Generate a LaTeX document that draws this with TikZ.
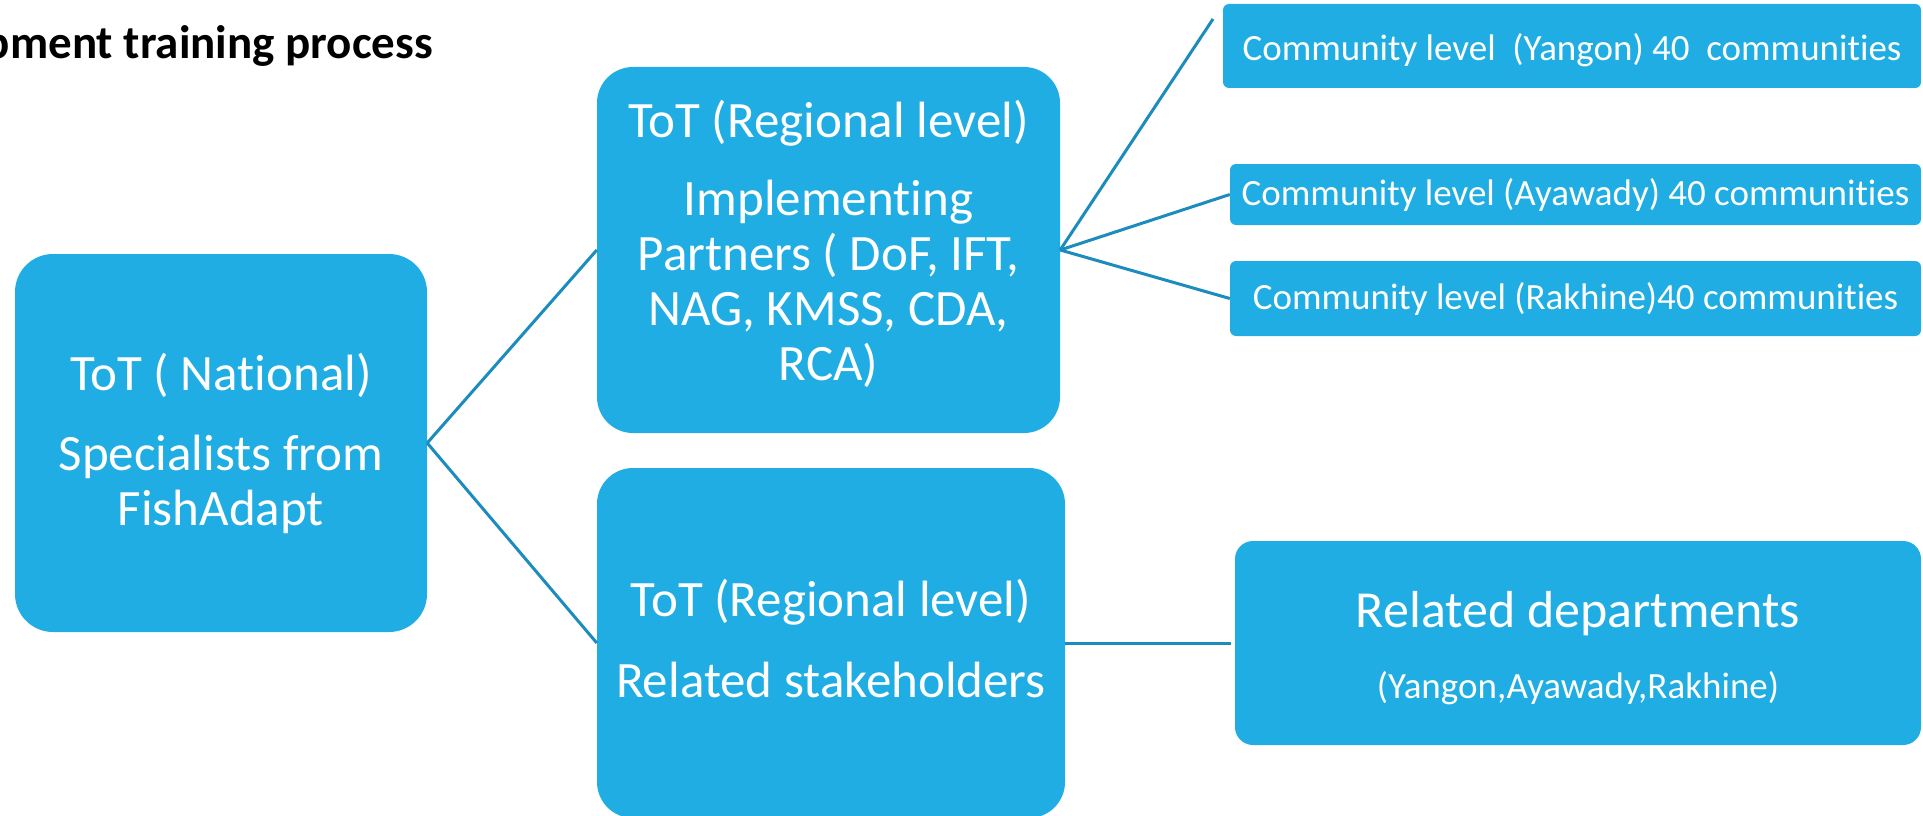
\documentclass[tikz,border=0pt]{standalone}
\usepackage{fontspec}
\setmainfont{Carlito}[Ligatures={NoCommon}]
\definecolor{boxblue}{HTML}{1FADE3}
\definecolor{linkblue}{HTML}{1C8BBD}
\begin{document}
\begin{tikzpicture}[x=1pt,y=-1pt,
  box/.style={fill=boxblue,text=white,inner sep=0pt,align=center,anchor=center},
  bigtext/.style={font=\fontsize{51}{55}\selectfont},
  comtext/.style={font=\fontsize{37}{41}\selectfont},
  link/.style={draw=linkblue,line width=3pt}]
\useasboundingbox (0,0) rectangle (1923,816);
\clip (0,0) rectangle (1923,816);
\node[anchor=base east,inner sep=0pt,font=\fontsize{47}{50}\selectfont\bfseries] (title) at (433,59) {Capacity development training process};
% boxes
\node[box,bigtext,rounded corners=38pt,minimum width=412pt,minimum height=378pt] (nat) at (221,443)
  {ToT ( National)\\[25pt]Specialists from\\FishAdapt};
\node[box,bigtext,rounded corners=36pt,minimum width=463pt,minimum height=366pt] (reg1) at (828.5,250)
  {ToT (Regional level)\\[23pt]Implementing\\Partners ( DoF, IFT,\\NAG, KMSS, CDA,\\RCA)\rule[-20pt]{0pt}{1pt}};
\node[box,bigtext,rounded corners=36pt,minimum width=468pt,minimum height=350pt] (reg2) at (831,643)
  {ToT (Regional level)\\[26pt]Related stakeholders\rule[-9pt]{0pt}{1pt}};
\node[box,comtext,rounded corners=6pt,minimum width=698pt,minimum height=84pt,text height=38pt,text depth=9pt] (yan) at (1572,46)
  {Community level\ \ (Yangon) 40\ \ communities};
\node[box,comtext,rounded corners=6pt,minimum width=691pt,minimum height=61pt] (aya) at (1575.5,194.5)
  {Community level (Ayawady) 40 communities};
\node[box,comtext,rounded corners=6pt,minimum width=691pt,minimum height=75pt] (rak) at (1575.5,298.5)
  {Community level (Rakhine)40 communities};
\node[box,rounded corners=18pt,minimum width=686pt,minimum height=204pt] (dep) at (1578,643)
  {{\fontsize{52}{56}\selectfont\rule{0pt}{46pt}Related departments}\\[34pt]{\fontsize{37}{40}\selectfont (Yangon,Ayawady,Rakhine)}};
% connectors
\coordinate (yend) at (1213,19);
\draw[link] (nat.east) -- (reg1.west);
\draw[link] (nat.east) -- (reg2.west);
\draw[link] (reg1.east) -- (yend);
\draw[link] (reg1.east) -- (aya.west);
\draw[link] (reg1.east) -- (rak.west);
\draw[link,shorten >=4pt] (reg2.east) -- (dep.west);
\end{tikzpicture}
\end{document}
